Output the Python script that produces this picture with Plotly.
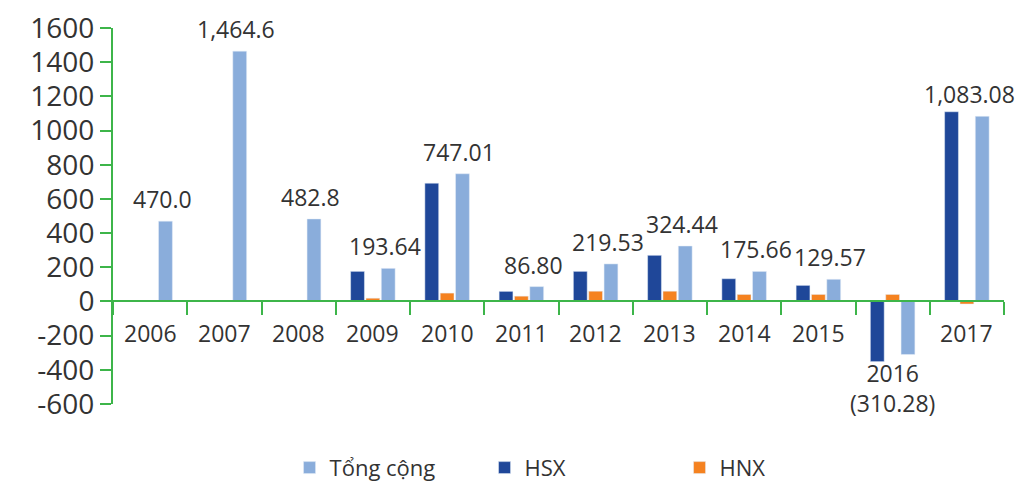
import plotly.graph_objects as go

# ---------------- data ----------------
years = ["2006", "2007", "2008", "2009", "2010", "2011", "2012", "2013", "2014", "2015", "2016", "2017"]
hsx = [None, None, None, 176, 692, 59, 176, 270, 133, 94, -352, 1110]
hnx = [None, None, None, 19, 49, 31, 60, 60, 41, 41, 41, -15]
tong_cong = [470.0, 1464.6, 482.8, 193.64, 747.01, 86.80, 219.53, 324.44, 175.66, 129.57, -310.28, 1083.08]
value_labels = ["470.0", "1,464.6", "482.8", "193.64", "747.01", "86.80", "219.53", "324.44", "175.66", "129.57", "", "1,083.08"]
year_labels = ["2006", "2007", "2008", "2009", "2010", "2011", "2012", "2013", "2014", "2015", "2016<br>(310.28)", "2017"]
y_ticks = [-600, -400, -200, 0, 200, 400, 600, 800, 1000, 1200, 1400, 1600]
y_tick_text = [str(v) for v in y_ticks]

green = "#3DB54A"
text_col = "#333333"
font_family = "Open Sans"

fig = go.Figure()
fig.add_trace(go.Bar(x=years, y=hsx, name="HSX", marker_color="#1F4799", legendrank=2))
fig.add_trace(go.Bar(x=years, y=hnx, name="HNX", marker_color="#F58220", legendrank=3))
fig.add_trace(go.Bar(x=years, y=tong_cong, name="Tổng cộng", marker_color="#8AADDB", legendrank=1))

# value labels above the total bar (x given as category index, years look numeric)
for i, (val, lab) in enumerate(zip(tong_cong, value_labels)):
  if lab == "":
    continue
  xs = 3 if i == len(years) - 1 else 12  # keep the last one inside the page
  fig.add_annotation(x=i, y=val, text=lab, showarrow=False, xshift=xs, yshift=4,
                     yanchor="bottom", font=dict(size=23, color=text_col, family=font_family))

# category labels just under the zero line
for i, lab in enumerate(year_labels):
  shift = -87 if "<br>" in lab else -32
  fig.add_annotation(x=i, y=0, text=lab, showarrow=False, yshift=shift, yanchor="middle",
                     font=dict(size=23, color=text_col, family=font_family))

# page body has an 8px margin, so the figure is 16px smaller than the window
fig.update_layout(
    width=1016,
    height=476,
    margin=dict(l=105, r=20, t=20, b=80),
    plot_bgcolor="white",
    paper_bgcolor="white",
    barmode="group",
    bargap=0.38,
    bargroupgap=0.1,
    font=dict(family=font_family, color=text_col),
    showlegend=True,
    legend=dict(
        orientation="h",
        xref="container",
        yref="container",
        x=0.565,
        xanchor="center",
        y=0.034,
        yanchor="middle",
        font=dict(size=22, color=text_col),
        entrywidth=150,
        entrywidthmode="pixels",
    ),
    xaxis=dict(
        type="category",
        range=[-0.5, len(years) - 0.5],
        anchor="free",
        position=600 / 2200,
        showline=True,
        linecolor=green,
        linewidth=2,
        ticks="outside",
        tickson="boundaries",
        ticklen=13,
        tickwidth=2,
        tickcolor=green,
        showticklabels=False,
        showgrid=False,
    ),
    yaxis=dict(
        range=[-600, 1600],
        tickvals=y_ticks,
        ticktext=y_tick_text,
        automargin=False,
        ticklabeloverflow="allow",
        showline=True,
        linecolor=green,
        linewidth=2,
        ticks="outside",
        ticklen=11,
        tickwidth=2,
        tickcolor=green,
        showgrid=False,
        zeroline=False,
        tickfont=dict(size=28, color=text_col),
    ),
)

fig.write_html("out.html")
